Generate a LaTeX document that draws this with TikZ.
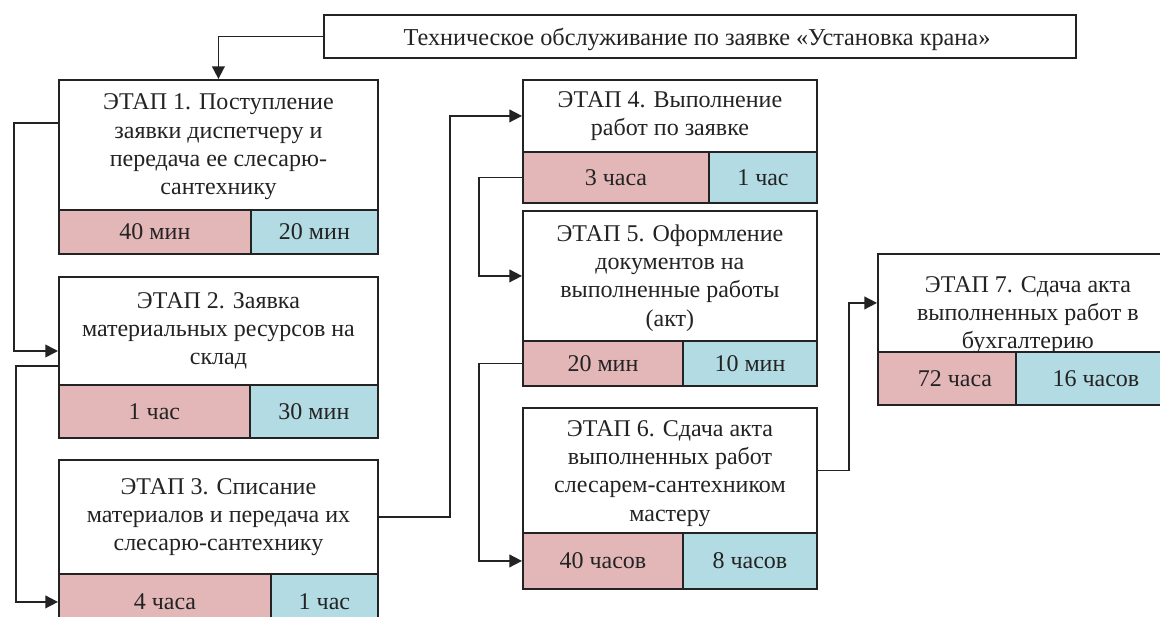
\documentclass[tikz,border=0pt]{standalone}
\usepackage{fontspec}
\setmainfont{Liberation Serif}[Ligatures=TeX]
\usetikzlibrary{arrows.meta,calc}
\definecolor{pinkbar}{RGB}{227,183,184}
\definecolor{bluebar}{RGB}{179,219,228}
\definecolor{ink}{RGB}{35,35,35}
\begin{document}
\begin{tikzpicture}[x=0.75pt,y=-0.75pt,
  box/.style={draw=ink,line width=1.4pt,fill=white,inner sep=0pt,anchor=north west},
  txt/.style={align=center,inner sep=0pt,text=ink,font=\fontsize{18}{21.2}\selectfont},
  pbar/.style={box,fill=pinkbar,font=\fontsize{18}{21}\selectfont,text=ink},
  bbar/.style={box,fill=bluebar,font=\fontsize{18}{21}\selectfont,text=ink},
  arr/.style={draw=ink,line width=1.3pt,-{Triangle[length=9.5pt,width=9.5pt]}}]
\useasboundingbox (0,0) rectangle (1160,617);
\clip (0,0) rectangle (1160,617);
\fill[white] (0,0) rectangle (1160,617);

% title
\node[box,minimum width=752*0.75pt,minimum height=43*0.75pt] (t) at (323,14) {};
\node[txt,font=\fontsize{18.2}{20}\selectfont] (tt) at (697,39) {Техническое обслуживание по заявке «Установка крана»};

% stage 1
\node[box,minimum width=319*0.75pt,minimum height=130*0.75pt] (s1) at (58,79) {};
\node[txt] (s1t) at ($(s1.center)+(0,2)$) {ЭТАП 1. Поступление\\заявки диспетчеру и\\передача ее слесарю-\\сантехнику};
\node[pbar,minimum width=192*0.75pt,minimum height=44*0.75pt] (p1) at (58,209) {40 мин};
\node[bbar,minimum width=127*0.75pt,minimum height=44*0.75pt] (b1) at (250,209) {20 мин};

% stage 2
\node[box,minimum width=319*0.75pt,minimum height=108*0.75pt] (s2) at (58,276) {};
\node[txt] (s2t) at (s2.center) {ЭТАП 2. Заявка\\материальных ресурсов на\\склад};
\node[pbar,minimum width=191*0.75pt,minimum height=53*0.75pt] (p2) at (58,384) {1 час};
\node[bbar,minimum width=128*0.75pt,minimum height=53*0.75pt] (b2) at (249,384) {30 мин};

% stage 3
\node[box,minimum width=319*0.75pt,minimum height=114*0.75pt] (s3) at (58,459) {};
\node[txt] (s3t) at (s3.center) {ЭТАП 3. Списание\\материалов и передача их\\слесарю-сантехнику};
\node[pbar,minimum width=212*0.75pt,minimum height=56*0.75pt] (p3) at (58,573) {4 часа};
\node[bbar,minimum width=107*0.75pt,minimum height=56*0.75pt] (b3) at (270,573) {1 час};

% stage 4
\node[box,minimum width=294*0.75pt,minimum height=72*0.75pt] (s4) at (522,79) {};
\node[txt] (s4t) at (s4.center) {ЭТАП 4. Выполнение\\работ по заявке};
\node[pbar,minimum width=186*0.75pt,minimum height=51*0.75pt] (p4) at (522,151) {3 часа};
\node[bbar,minimum width=108*0.75pt,minimum height=51*0.75pt] (b4) at (708,151) {1 час};

% stage 5
\node[box,minimum width=294*0.75pt,minimum height=130*0.75pt] (s5) at (522,210) {};
\node[txt] (s5t) at ($(s5.center)+(0,2)$) {ЭТАП 5. Оформление\\документов на\\выполненные работы\\(акт)};
\node[pbar,minimum width=160*0.75pt,minimum height=45*0.75pt] (p5) at (522,340) {20 мин};
\node[bbar,minimum width=134*0.75pt,minimum height=45*0.75pt] (b5) at (682,340) {10 мин};

% stage 6
\node[box,minimum width=294*0.75pt,minimum height=125*0.75pt] (s6) at (522,407) {};
\node[txt] (s6t) at ($(s6.center)+(0,3)$) {ЭТАП 6. Сдача акта\\выполненных работ\\слесарем-сантехником\\мастеру};
\node[pbar,minimum width=160*0.75pt,minimum height=56*0.75pt] (p6) at (522,532) {40 часов};
\node[bbar,minimum width=134*0.75pt,minimum height=56*0.75pt] (b6) at (682,532) {8 часов};

% stage 7 (text runs into the bar below)
\node[box,minimum width=300*0.75pt,minimum height=98*0.75pt] (s7) at (877,253) {};
\node[txt] (s7t) at ($(s7.center)+(0,12)$) {ЭТАП 7. Сдача акта\\выполненных работ в\\бухгалтерию};
\node[pbar,minimum width=138*0.75pt,minimum height=53*0.75pt] (p7) at (877,351) {\hspace*{12pt}72 часа};
\node[bbar,minimum width=160*0.75pt,minimum height=53*0.75pt] (b7) at (1015,351) {16 часов};

% connectors
\draw[arr] (t.west) -| (s1.north);
\draw[arr] ($(s1.north west)+(0,44)$) -- ++(-44,0) |- ($(s2.north west)+(0,75)$);
\draw[arr] ($(s2.north west)+(0,90)$) -- ++(-42,0) |- (p3.west);
\draw[arr] (s3.east) -- ++(71,0) |- (s4.west);
\draw[arr] (p4.west) -- ++(-43,0) |- (s5.west);
\draw[arr] (p5.west) -- ++(-43,0) |- (p6.west);
\draw[arr] (s6.east) -- ++(31,0) |- (s7.west);
\end{tikzpicture}
\end{document}
